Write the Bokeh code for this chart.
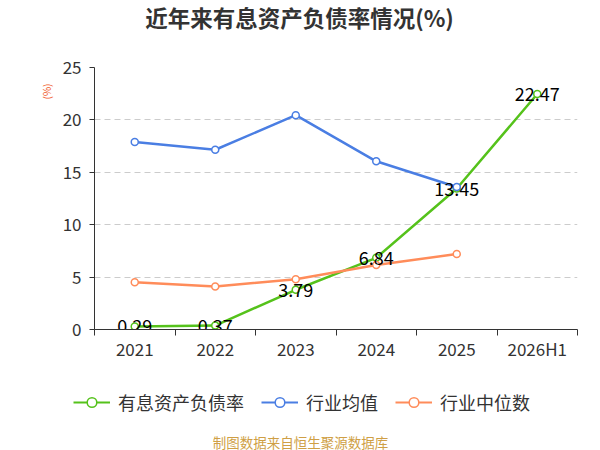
from bokeh.plotting import figure
from bokeh.layouts import column, row
from bokeh.models import (Range1d, FixedTicker, LinearAxis, Label, Legend, LegendItem,
                          ColumnDataSource, Title)
from bokeh.core.properties import value
from bokeh.embed import file_html
from bokeh.resources import INLINE

categories = ["2021", "2022", "2023", "2024", "2025", "2026H1"]
ratio = [0.29, 0.37, 3.79, 6.84, 13.45, 22.47]
ind_avg = [17.9, 17.15, 20.45, 16.05, 13.6]
ind_med = [4.5, 4.1, 4.8, 6.15, 7.2]
y_ticks = [0, 5, 10, 15, 20, 25]
series_names = ["有息资产负债率", "行业均值", "行业中位数"]
title_text = "近年来有息资产负债率情况(%)"
unit_text = "(%)"
footer_text = "制图数据来自恒生聚源数据库"

FONT = "Noto Sans CJK SC"
COLORS = ["#55c21b", "#4a7ee3", "#ff8c5a"]
W = 600
TH, MH, LH = 36, 339, 75


def blank(h):
    f = figure(width=W, height=h, output_backend="svg", toolbar_location=None,
               x_range=Range1d(0, W), y_range=Range1d(0, h),
               x_axis_location=None, y_axis_location=None, min_border=0)
    f.outline_line_color = None
    f.xgrid.grid_line_color = None
    f.ygrid.grid_line_color = None
    return f


# ---- title strip
tf = blank(TH)
tf.add_layout(Label(x=W / 2 - 1, y=TH - 16, text=title_text, text_font=FONT, text_font_size="22.5px",
                    text_font_style="bold", text_color="#333333",
                    text_align="center", text_baseline="middle"))

# ---- main chart
p = figure(width=W, height=MH, output_backend="svg", toolbar_location=None,
           x_range=Range1d(0, len(categories)), y_range=Range1d(0, 25),
           x_axis_location=None, y_axis_location=None,
           min_border_left=94, min_border_right=23, min_border_top=31, min_border_bottom=46)
p.outline_line_color = None

yax = LinearAxis(ticker=FixedTicker(ticks=y_ticks))
yax.axis_line_color = "#333333"
yax.major_tick_line_color = "#333333"
yax.major_tick_out = 5
yax.major_tick_in = 0
yax.minor_tick_line_color = None
yax.major_label_text_font = FONT
yax.major_label_text_font_size = "17px"
yax.major_label_text_color = "#333333"
yax.major_label_standoff = 8
p.add_layout(yax, "left")

unit = Title(text=unit_text, align="right", offset=16, text_font=FONT, text_font_size="10px",
             text_font_style="normal", text_color="#f05a28", standoff=12)
p.add_layout(unit, "left")

xax = LinearAxis(ticker=FixedTicker(ticks=list(range(len(categories) + 1))))
xax.axis_line_color = "#333333"
xax.major_tick_line_color = "#333333"
xax.major_tick_out = 6
xax.major_tick_in = 0
xax.minor_tick_line_color = None
xax.major_label_text_font_size = "0px"
xax.major_label_standoff = 0
xax.axis_label_standoff = 0
p.add_layout(xax, "below")

centers = [i + 0.5 for i in range(len(categories))]
xax2 = LinearAxis(ticker=FixedTicker(ticks=centers),
                  major_label_overrides={c: n for c, n in zip(centers, categories)})
xax2.axis_line_color = None
xax2.major_tick_line_color = None
xax2.minor_tick_line_color = None
xax2.major_label_text_font = FONT
xax2.major_label_text_font_size = "17px"
xax2.major_label_text_color = "#333333"
xax2.major_label_standoff = -6
p.add_layout(xax2, "below")

p.ygrid.ticker = FixedTicker(ticks=y_ticks)
p.ygrid.grid_line_color = "#cccccc"
p.ygrid.grid_line_dash = "6 4"
p.xgrid.grid_line_color = None

series = [ratio, ind_avg, ind_med]
for vals, col in zip(series, COLORS):
    src = ColumnDataSource(dict(x=centers[:len(vals)], y=vals))
    p.line("x", "y", source=src, line_color=col, line_width=2.5)
    p.scatter("x", "y", source=src, size=7, fill_color="white", line_color=col, line_width=1.5)

src_lab = ColumnDataSource(dict(x=centers, y=ratio, t=[f"{v:.2f}" for v in ratio]))
p.text("x", "y", text="t", source=src_lab, text_align="center", text_baseline="middle",
       text_font=value(FONT), text_font_size="18px", text_color="#000000")

# ---- legend + footer strip
lf = blank(LH)
items = []
nan = float("nan")
for name, col in zip(series_names, COLORS):
    dummy = ColumnDataSource(dict(x=[nan], y=[nan]))
    l = lf.line("x", "y", source=dummy, line_color=col, line_width=2)
    s = lf.scatter("x", "y", source=dummy, size=13, fill_color="white", line_color=col, line_width=1.5)
    items.append(LegendItem(label=value(name), renderers=[l, s]))
legend = Legend(items=items, orientation="horizontal", location=(73, 35))
legend.label_text_font = FONT
legend.label_text_font_size = "18px"
legend.label_text_color = "#333333"
legend.glyph_width = 37
legend.glyph_height = 24
legend.label_standoff = 8
legend.spacing = 17
legend.padding = 0
legend.margin = 0
legend.border_line_color = None
legend.background_fill_alpha = 0
lf.add_layout(legend, "center")
lf.add_layout(Label(x=W / 2, y=9, text=footer_text, text_font=FONT, text_font_size="13.5px",
                    text_color="#cf9f45", text_align="center", text_baseline="middle"))

layout = column(row(tf), p, row(lf), spacing=0)
open("out.html", "w").write(file_html(layout, INLINE))
